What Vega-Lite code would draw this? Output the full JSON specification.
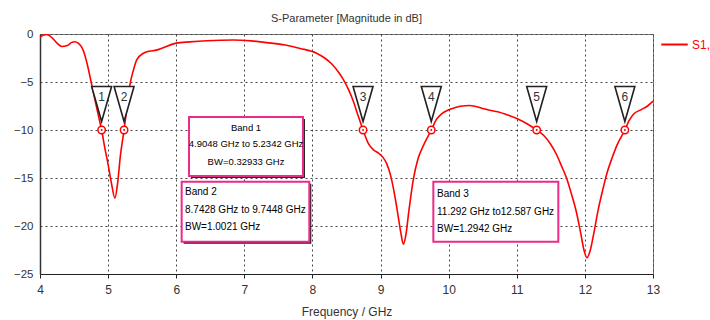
{
  "$schema": "https://vega.github.io/schema/vega-lite/v6.json",
  "width": 613,
  "height": 240,
  "autosize": {"type": "none"},
  "padding": {"left": 40, "top": 34, "right": 57, "bottom": 46},
  "background": "white",
  "config": {
    "view": {"stroke": "#777", "strokeWidth": 1},
    "font": "Liberation Sans"
  },
  "title": {
    "text": "S-Parameter [Magnitude in dB]",
    "fontSize": 11,
    "fontWeight": "normal",
    "color": "#333",
    "anchor": "middle",
    "offset": 4,
    "font": "Liberation Sans"
  },
  "datasets": {
    "curve": [
      {"f": 4.00, "v": -0.35, "s": "S1,"},
      {"f": 4.05, "v": -0.10, "s": "S1,"},
      {"f": 4.10, "v": -0.05, "s": "S1,"},
      {"f": 4.17, "v": -0.35, "s": "S1,"},
      {"f": 4.25, "v": -0.95, "s": "S1,"},
      {"f": 4.32, "v": -1.30, "s": "S1,"},
      {"f": 4.40, "v": -1.20, "s": "S1,"},
      {"f": 4.46, "v": -0.90, "s": "S1,"},
      {"f": 4.51, "v": -0.80, "s": "S1,"},
      {"f": 4.56, "v": -0.95, "s": "S1,"},
      {"f": 4.61, "v": -1.35, "s": "S1,"},
      {"f": 4.65, "v": -2.00, "s": "S1,"},
      {"f": 4.69, "v": -3.05, "s": "S1,"},
      {"f": 4.76, "v": -5.30, "s": "S1,"},
      {"f": 4.83, "v": -7.60, "s": "S1,"},
      {"f": 4.87, "v": -8.90, "s": "S1,"},
      {"f": 4.9048, "v": -10.0, "s": "S1,"},
      {"f": 4.95, "v": -11.8, "s": "S1,"},
      {"f": 5.00, "v": -13.6, "s": "S1,"},
      {"f": 5.05, "v": -15.6, "s": "S1,"},
      {"f": 5.10, "v": -17.1, "s": "S1,"},
      {"f": 5.14, "v": -15.5, "s": "S1,"},
      {"f": 5.18, "v": -12.7, "s": "S1,"},
      {"f": 5.2342, "v": -10.0, "s": "S1,"},
      {"f": 5.28, "v": -7.40, "s": "S1,"},
      {"f": 5.32, "v": -5.30, "s": "S1,"},
      {"f": 5.37, "v": -3.80, "s": "S1,"},
      {"f": 5.42, "v": -2.70, "s": "S1,"},
      {"f": 5.52, "v": -2.00, "s": "S1,"},
      {"f": 5.60, "v": -1.80, "s": "S1,"},
      {"f": 5.71, "v": -1.68, "s": "S1,"},
      {"f": 5.80, "v": -1.45, "s": "S1,"},
      {"f": 6.00, "v": -0.95, "s": "S1,"},
      {"f": 6.20, "v": -0.82, "s": "S1,"},
      {"f": 6.45, "v": -0.70, "s": "S1,"},
      {"f": 6.84, "v": -0.62, "s": "S1,"},
      {"f": 7.10, "v": -0.72, "s": "S1,"},
      {"f": 7.33, "v": -0.90, "s": "S1,"},
      {"f": 7.60, "v": -1.15, "s": "S1,"},
      {"f": 7.82, "v": -1.50, "s": "S1,"},
      {"f": 8.06, "v": -2.00, "s": "S1,"},
      {"f": 8.18, "v": -2.50, "s": "S1,"},
      {"f": 8.28, "v": -3.10, "s": "S1,"},
      {"f": 8.37, "v": -3.85, "s": "S1,"},
      {"f": 8.45, "v": -4.70, "s": "S1,"},
      {"f": 8.53, "v": -5.80, "s": "S1,"},
      {"f": 8.60, "v": -7.00, "s": "S1,"},
      {"f": 8.67, "v": -8.50, "s": "S1,"},
      {"f": 8.7428, "v": -10.0, "s": "S1,"},
      {"f": 8.82, "v": -11.4, "s": "S1,"},
      {"f": 8.90, "v": -12.1, "s": "S1,"},
      {"f": 8.97, "v": -12.4, "s": "S1,"},
      {"f": 9.03, "v": -12.8, "s": "S1,"},
      {"f": 9.09, "v": -13.5, "s": "S1,"},
      {"f": 9.15, "v": -14.8, "s": "S1,"},
      {"f": 9.20, "v": -16.5, "s": "S1,"},
      {"f": 9.25, "v": -18.6, "s": "S1,"},
      {"f": 9.30, "v": -20.8, "s": "S1,"},
      {"f": 9.335, "v": -21.9, "s": "S1,"},
      {"f": 9.37, "v": -21.0, "s": "S1,"},
      {"f": 9.42, "v": -18.2, "s": "S1,"},
      {"f": 9.48, "v": -15.2, "s": "S1,"},
      {"f": 9.55, "v": -13.0, "s": "S1,"},
      {"f": 9.63, "v": -11.6, "s": "S1,"},
      {"f": 9.7448, "v": -10.0, "s": "S1,"},
      {"f": 9.82, "v": -8.90, "s": "S1,"},
      {"f": 9.90, "v": -8.30, "s": "S1,"},
      {"f": 10.00, "v": -7.90, "s": "S1,"},
      {"f": 10.10, "v": -7.65, "s": "S1,"},
      {"f": 10.20, "v": -7.50, "s": "S1,"},
      {"f": 10.30, "v": -7.45, "s": "S1,"},
      {"f": 10.40, "v": -7.55, "s": "S1,"},
      {"f": 10.50, "v": -7.75, "s": "S1,"},
      {"f": 10.60, "v": -7.95, "s": "S1,"},
      {"f": 10.72, "v": -8.10, "s": "S1,"},
      {"f": 10.85, "v": -8.40, "s": "S1,"},
      {"f": 11.00, "v": -8.80, "s": "S1,"},
      {"f": 11.15, "v": -9.35, "s": "S1,"},
      {"f": 11.292, "v": -10.0, "s": "S1,"},
      {"f": 11.40, "v": -10.6, "s": "S1,"},
      {"f": 11.49, "v": -11.4, "s": "S1,"},
      {"f": 11.58, "v": -12.5, "s": "S1,"},
      {"f": 11.66, "v": -13.8, "s": "S1,"},
      {"f": 11.73, "v": -15.0, "s": "S1,"},
      {"f": 11.80, "v": -16.6, "s": "S1,"},
      {"f": 11.88, "v": -18.7, "s": "S1,"},
      {"f": 11.94, "v": -20.8, "s": "S1,"},
      {"f": 11.99, "v": -22.6, "s": "S1,"},
      {"f": 12.03, "v": -23.3, "s": "S1,"},
      {"f": 12.08, "v": -22.5, "s": "S1,"},
      {"f": 12.13, "v": -20.8, "s": "S1,"},
      {"f": 12.19, "v": -18.5, "s": "S1,"},
      {"f": 12.26, "v": -16.3, "s": "S1,"},
      {"f": 12.32, "v": -14.6, "s": "S1,"},
      {"f": 12.40, "v": -12.9, "s": "S1,"},
      {"f": 12.47, "v": -11.6, "s": "S1,"},
      {"f": 12.587, "v": -10.0, "s": "S1,"},
      {"f": 12.65, "v": -9.00, "s": "S1,"},
      {"f": 12.72, "v": -8.30, "s": "S1,"},
      {"f": 12.82, "v": -7.90, "s": "S1,"},
      {"f": 12.92, "v": -7.50, "s": "S1,"},
      {"f": 13.00, "v": -7.00, "s": "S1,"}
    ],
    "markers": [
      {"f": 4.9048, "v": -10, "n": "1"},
      {"f": 5.2342, "v": -10, "n": "2"},
      {"f": 8.7428, "v": -10, "n": "3"},
      {"f": 9.7448, "v": -10, "n": "4"},
      {"f": 11.292, "v": -10, "n": "5"},
      {"f": 12.587, "v": -10, "n": "6"}
    ],
    "boxes": [
      {"band": 1, "x1": 6.188, "x2": 7.861, "y1": -8.65, "y2": -14.79},
      {"band": 2, "x1": 6.080, "x2": 7.954, "y1": -15.39, "y2": -21.64},
      {"band": 3, "x1": 9.775, "x2": 11.610, "y1": -15.39, "y2": -21.64}
    ],
    "labels": [
      {"band": 1, "x": 7.025, "y": -9.76, "t": "Band 1"},
      {"band": 1, "x": 7.025, "y": -11.49, "t": "4.9048 GHz to 5.2342 GHz"},
      {"band": 1, "x": 7.025, "y": -13.30, "t": "BW=0.32933 GHz"},
      {"band": 2, "x": 6.129, "y": -16.43, "t": "Band 2"},
      {"band": 2, "x": 6.129, "y": -18.33, "t": "8.7428 GHz to 9.7448 GHz"},
      {"band": 2, "x": 6.129, "y": -20.14, "t": "BW=1.0021 GHz"},
      {"band": 3, "x": 9.829, "y": -16.67, "t": "Band 3"},
      {"band": 3, "x": 9.829, "y": -18.51, "t": "11.292 GHz to12.587 GHz"},
      {"band": 3, "x": 9.829, "y": -20.31, "t": "BW=1.2942 GHz"}
    ]
  },
  "layer": [
    {
      "data": {"name": "curve"},
      "mark": {"type": "line", "strokeWidth": 1.6, "interpolate": "monotone", "clip": true},
      "encoding": {
        "x": {
          "field": "f", "type": "quantitative",
          "scale": {"domain": [4, 13], "nice": false},
          "axis": {
            "values": [4, 5, 6, 7, 8, 9, 10, 11, 12, 13],
            "format": "d", "labelFlush": false,
            "grid": true, "gridDash": [2, 3], "gridColor": "#444", "gridOpacity": 1,
            "domainColor": "#222", "domainWidth": 1.2,
            "tickColor": "#222", "tickSize": 4,
            "labelFontSize": 12, "labelColor": "#333", "labelPadding": 6,
            "title": "Frequency / GHz", "titleFontSize": 12, "titleFontWeight": "normal",
            "titleColor": "#333", "titlePadding": 11
          }
        },
        "y": {
          "field": "v", "type": "quantitative",
          "scale": {"domain": [-25, 0], "nice": false},
          "axis": {
            "values": [-25, -20, -15, -10, -5, 0],
            "labelFlush": false,
            "grid": true, "gridDash": [2, 3], "gridColor": "#444", "gridOpacity": 1,
            "domainColor": "#333", "domainWidth": 1.5,
            "ticks": false, "labelPadding": 7,
            "labelFontSize": 11.5, "labelColor": "#333",
            "title": null
          }
        },
        "color": {
          "field": "s", "type": "nominal",
          "scale": {"domain": ["S1,"], "range": ["#ff0000"]},
          "legend": {
            "orient": "none", "legendX": 620, "legendY": -4,
            "title": null, "padding": 0,
            "symbolType": "stroke", "symbolSize": 700, "symbolStrokeWidth": 2,
            "labelFontSize": 12, "labelColor": "#ff0000", "labelOffset": 3
          }
        }
      }
    },
    {
      "data": {"name": "markers"},
      "mark": {"type": "point", "shape": "M-0.57,-1L0.57,-1L0,1Z", "size": 1225, "filled": true, "fill": "white", "stroke": "#222", "strokeWidth": 1.6, "yOffset": -26, "opacity": 1},
      "encoding": {
        "x": {"field": "f", "type": "quantitative"},
        "y": {"field": "v", "type": "quantitative"}
      }
    },
    {
      "data": {"name": "markers"},
      "mark": {"type": "text", "fontSize": 12, "color": "#333", "yOffset": -33.5, "font": "Liberation Sans"},
      "encoding": {
        "x": {"field": "f", "type": "quantitative"},
        "y": {"field": "v", "type": "quantitative"},
        "text": {"field": "n"}
      }
    },
    {
      "data": {"name": "markers"},
      "mark": {"type": "point", "shape": "circle", "size": 55, "filled": true, "fill": "white", "stroke": "#ff0000", "strokeWidth": 1.5, "opacity": 1},
      "encoding": {
        "x": {"field": "f", "type": "quantitative"},
        "y": {"field": "v", "type": "quantitative"}
      }
    },
    {
      "data": {"name": "markers"},
      "mark": {"type": "point", "shape": "circle", "size": 4, "filled": true, "fill": "#ff0000", "opacity": 1},
      "encoding": {
        "x": {"field": "f", "type": "quantitative"},
        "y": {"field": "v", "type": "quantitative"}
      }
    },
    {
      "data": {"name": "boxes"},
      "transform": [{"filter": "datum.band < 3"}],
      "mark": {"type": "rect", "fill": "#222", "xOffset": 2, "x2Offset": 2, "yOffset": 2, "y2Offset": 2},
      "encoding": {
        "x": {"field": "x1", "type": "quantitative"},
        "x2": {"field": "x2"},
        "y": {"field": "y1", "type": "quantitative"},
        "y2": {"field": "y2"}
      }
    },
    {
      "data": {"name": "boxes"},
      "mark": {"type": "rect", "fill": "white", "stroke": "#ec2a8a", "strokeWidth": 2},
      "encoding": {
        "x": {"field": "x1", "type": "quantitative"},
        "x2": {"field": "x2"},
        "y": {"field": "y1", "type": "quantitative"},
        "y2": {"field": "y2"}
      }
    },
    {
      "data": {"name": "labels"},
      "transform": [{"filter": "datum.band == 1"}],
      "mark": {"type": "text", "align": "center", "baseline": "middle", "fontSize": 9.5, "color": "#000", "font": "Liberation Sans"},
      "encoding": {
        "x": {"field": "x", "type": "quantitative"},
        "y": {"field": "y", "type": "quantitative"},
        "text": {"field": "t"}
      }
    },
    {
      "data": {"name": "labels"},
      "transform": [{"filter": "datum.band > 1"}],
      "mark": {"type": "text", "align": "left", "baseline": "middle", "fontSize": 10, "color": "#000", "font": "Liberation Sans"},
      "encoding": {
        "x": {"field": "x", "type": "quantitative"},
        "y": {"field": "y", "type": "quantitative"},
        "text": {"field": "t"}
      }
    }
  ]
}
